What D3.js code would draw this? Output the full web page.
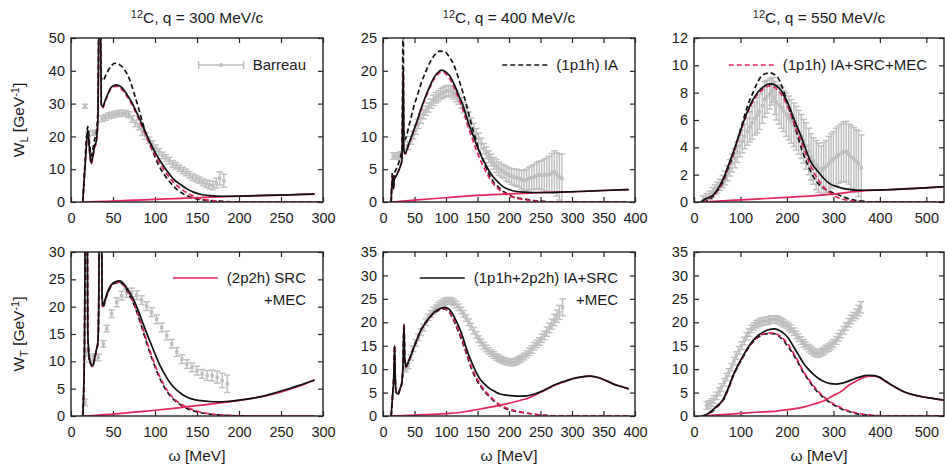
<!DOCTYPE html>
<html><head><meta charset="utf-8">
<script src="https://cdn.jsdelivr.net/npm/d3@7"></script>
<style>
body{margin:0;background:#fff}
svg{display:block}
text{font-family:"Liberation Sans",Arial,Helvetica,sans-serif;fill:#1a1a1a}
</style>
</head><body>
<svg id="c" width="945" height="472"></svg>
<script>
// ---------------- tick labels ----------------
const xTicks300 = [0,50,100,150,200,250,300];
const xTicks400 = [0,50,100,150,200,250,300,350,400];
const xTicks550 = [0,100,200,300,400,500];
const yTicksL300 = [0,10,20,30,40,50];
const yTicksL400 = [0,5,10,15,20,25];
const yTicksL550 = [0,2,4,6,8,10,12];
const yTicksT300 = [0,5,10,15,20,25,30];
const yTicksT400 = [0,5,10,15,20,25,30,35];
const yTicksT550 = [0,5,10,15,20,25,30,35];
const qValues = ["300","400","550"];
const legendLabels = {
  data:["Barreau"], ia:["(1p1h) IA"], full:["(1p1h) IA+SRC+MEC"],
  mec:["(2p2h) SRC","+MEC"], tot:["(1p1h+2p2h) IA+SRC","+MEC"]
};

// ---------------- q = 300, W_L ----------------
const dataL300 = [[16.7,29.2,0.6],[20.5,20.6,0.8],[26.5,21.1,0.8],[37,25.4,0.9],[41,25.8,0.9],[45,26.3,0.9],[49,26.5,0.9],[53,26.8,0.9],[57,27,0.9],[61,27.1,0.9],[65,27,0.9],[69,26.6,0.9],[73,25.3,1],[77,24,1],[81,23,1],[85,21.3,1],[89,20.1,1],[93,18.8,1],[97,17.7,1],[101,16.4,1],[105,15.3,1],[109,14.2,1],[113,13.4,1],[117,12.6,1],[121,11.6,1],[125,11,1],[129,10.3,1],[133,9.6,1],[137,9,1],[141,8.3,1],[145,7.6,1],[149,7.1,1],[153,6.6,1],[157,6,1],[161,5.6,1.1],[165,5.2,1.2],[169,5,1.3],[173,5.8,1.5],[177,7.2,2],[182,6.5,2]];
const iaL300 = [[14,0],[16,9],[18,18],[20,23],[22,18],[24,14],[26,16],[28,19],[30,21],[32,28],[33.5,60],[35,60],[36,38],[38,37],[42,39],[48,41.5],[52,42.3],[58,41.8],[64,40.2],[70,37.2],[76,32.4],[82,27.2],[88,21.8],[96,16.3],[104,11.4],[112,8],[119,5.7],[127,3.6],[135,2.3],[147,1.1],[163,0.5],[180,0.2],[200,0],[300,0]];
const fullL300 = [[14,0],[16,8],[18,16],[20,21.5],[22,15.5],[24,11.5],[26,13.5],[28,16.5],[30,18],[32,24.5],[33.5,60],[35,60],[36,29.5],[38,28.7],[40,30.2],[44,32.7],[48,34.7],[54,35.3],[60,34.5],[66,32.5],[72,30],[78,26.8],[84,23.3],[90,19.8],[96,16.4],[102,13.4],[108,10.9],[115,8.2],[122,6],[130,4.2],[138,2.8],[146,1.8],[155,1],[165,0.5],[175,0.2],[190,0],[300,0]];
const mecL300 = [[15,0],[30,0.1],[50,0.3],[75,0.55],[100,0.8],[125,1.05],[150,1.3],[175,1.55],[200,1.75],[225,1.95],[250,2.1],[275,2.3],[290,2.4]];
const totL300 = [[14,0],[16,8],[18,16],[20,22],[22,16],[24,12],[26,14],[28,17],[30,18.5],[32,25],[33.5,60],[35,60],[36,30],[38,29],[40,30.5],[44,33],[48,35],[54,35.7],[60,35],[66,33],[72,30.5],[78,27.4],[84,24],[90,20.5],[96,17.2],[102,14.3],[108,11.8],[115,9.2],[122,7],[130,5.4],[138,4],[146,3],[155,2.3],[165,1.95],[180,1.75],[200,1.8],[230,2],[260,2.2],[290,2.4]];

// ---------------- q = 400, W_L ----------------
const dataL400 = [[16,7,0.5],[20,7,0.5],[24,7,0.5],[28,7.2,0.5],[39,8.6,0.6],[44,9.4,0.6],[48,10.2,0.6],[52,11,0.7],[56,11.9,0.7],[60,12.7,0.7],[64,13.4,0.7],[68,13.9,0.7],[72,14.4,0.7],[76,15,0.7],[80,15.5,0.8],[84,15.9,0.8],[88,16.2,0.8],[92,16.5,0.8],[96,16.7,0.8],[100,16.9,0.8],[104,17,0.8],[108,16.8,0.8],[112,16.5,0.8],[116,16.1,0.8],[120,15.7,0.8],[124,15.1,0.8],[128,14.4,0.8],[132,13.7,0.8],[136,12.9,0.8],[140,12,0.8],[144,11.2,0.8],[148,10.4,0.8],[152,9.7,0.8],[156,8.9,0.8],[160,8.1,0.8],[164,7.5,0.9],[168,6.9,0.9],[172,6.4,0.9],[176,5.9,0.9],[180,5.5,1],[184,5.1,1],[188,4.8,1],[192,4.6,1],[196,4.3,1.1],[200,4.1,1.1],[204,3.9,1.2],[208,3.8,1.2],[212,3.7,1.3],[216,3.6,1.3],[220,3.4,1.4],[224,3.3,1.5],[228,3.4,1.6],[232,3.6,1.7],[236,3.7,1.8],[240,3.8,1.9],[244,4,2],[248,4.1,2.1],[252,4.1,2.2],[256,4.1,2.4],[260,4.1,2.6],[264,4.2,2.8],[268,4.4,3],[272,4.6,3.2],[276,4.2,3.3],[280,3.8,3.5],[284,3.6,3.7]];
const iaL400 = [[13,0],[15,4.5],[16.5,2.5],[18,4.2],[21,5],[25,6],[28,7],[30,8],[31,15],[32,32],[33,11],[35,9.5],[37.6,10.2],[42,11.9],[48,14.2],[55,16.4],[61,18.2],[68,19.9],[74.6,21.3],[82,22.4],[90.5,23],[98,22.9],[106,22],[112,21],[117,19.7],[122,18.2],[127.5,16.5],[133,14.6],[138,12.7],[143,10.9],[148.7,9.1],[155,7.3],[162,5.6],[168,4.3],[175,3.1],[183,2.3],[191,1.6],[200,1.1],[206,0.8],[218,0.55],[228,0.4],[240,0.2],[254,0.1],[270,0],[390,0]];
const fullL400 = [[13,0],[15,4],[16.5,2],[18,3.5],[21,4],[25,4.8],[28,5.6],[30,6.3],[31,12],[32,20],[33,8],[35,7.3],[40,8.5],[48,10.6],[55,12.5],[61,14.2],[68,16],[74.6,17.5],[80,18.6],[85,19.3],[93,19.8],[100,19.5],[106,18.8],[114,17.2],[120,15.8],[125,14.6],[130,13.1],[135,11.5],[142,9.6],[149,7.7],[155,6.3],[162,4.9],[168,3.8],[175,2.8],[183,2],[191,1.4],[200,0.95],[212,0.6],[225,0.35],[240,0.15],[255,0.05],[270,0],[390,0]];
const mecL400 = [[13,0],[50,0.3],[100,0.65],[150,1],[200,1.25],[240,1.4],[280,1.5],[313,1.6],[350,1.75],[390,1.9]];
const totL400 = [[13,0],[15,4],[16.5,2],[18,3.5],[21,4],[25,4.8],[28,5.6],[30,6.3],[31,12],[32,20],[33,8],[35,7.4],[40,8.6],[48,10.7],[55,12.6],[61,14.4],[68,16.2],[74.6,17.7],[80,18.8],[85,19.5],[93,20.1],[100,19.8],[106,19.2],[114,17.7],[120,16.3],[125,15.2],[130,13.8],[135,12.2],[142,10.4],[149,8.6],[155,7.2],[162,5.9],[168,4.8],[175,3.8],[183,3],[191,2.3],[200,1.9],[212,1.6],[225,1.5],[240,1.45],[260,1.45],[280,1.5],[313,1.6],[350,1.75],[390,1.9]];

// ---------------- q = 550, W_L ----------------
const dataL550 = [[20,0.15,0.3],[27,0.3,0.3],[34,0.5,0.3],[40,0.7,0.35],[45,0.9,0.35],[50,1.05,0.4],[56,1.26,0.4],[62,1.5,0.45],[67,1.75,0.5],[72,2.1,0.55],[77,2.5,0.6],[82,2.85,0.65],[88,3.2,0.7],[93,3.65,0.75],[98.6,4.1,0.8],[104,4.45,0.85],[109,4.8,0.9],[115,5.15,1],[120,5.5,1.1],[125,5.8,1.2],[131,6.1,1.2],[136,6.35,1.3],[141,6.6,1.3],[147,7.05,1.3],[152,7.5,1.3],[157,7.7,1.2],[163,7.9,1.1],[167,8.1,1],[170,8.2,0.9],[174,7.6,1.2],[177,7.3,1.3],[183,7.1,1.4],[188,6.9,1.5],[193,6.65,1.5],[198.6,6.4,1.6],[204,6.15,1.6],[209,5.9,1.6],[215,5.65,1.6],[220,5.4,1.6],[225,5.1,1.6],[231,4.8,1.6],[236,4.45,1.6],[241,4.1,1.7],[247,3.7,1.7],[252,3.3,1.7],[257,3,1.7],[263,2.7,1.8],[268,2.5,1.8],[274,2.3,1.8],[279,2.45,1.9],[284,2.6,1.9],[290,2.8,2],[295,3,2],[300,3.15,2],[306,3.3,2.1],[311,3.45,2.1],[317,3.6,2.1],[322,3.65,2.2],[327.6,3.7,2.2],[333,3.5,2.2],[338,3.3,2.3],[344,3.15,2.3],[349,3,2.3],[354,2.8,2.4],[360,2.5,2.4]];
const iaL550 = [[20,0],[34,0.2],[48,0.7],[63,1.5],[73,2.4],[84,3.4],[95,4.7],[106,6],[116,7.1],[127,8],[136,8.7],[145,9.2],[155,9.4],[163,9.45],[172,9.35],[180.6,9.1],[190,8.4],[198.6,7.5],[207,6.6],[216.5,5.6],[225,4.6],[234.5,3.6],[245,2.7],[256,1.9],[266,1.4],[277,1.05],[290,0.8],[306,0.6],[320,0.4],[334,0.22],[348,0.12],[363,0.05],[380,0],[540,0]];
const fullL550 = [[15,0],[20,0.1],[30,0.25],[41,0.45],[52,0.9],[63,1.6],[73,2.5],[84,3.5],[95,4.6],[106,5.7],[116,6.6],[127,7.35],[138,7.9],[148.6,8.25],[157,8.45],[166.5,8.5],[175,8.35],[184,8.05],[195,7.45],[206,6.6],[216,5.7],[227,4.75],[238,3.75],[249,2.8],[260,2.05],[270,1.5],[280,1.05],[291,0.7],[305,0.4],[320,0.2],[335,0.1],[350,0.04],[370,0],[540,0]];
const mecL550 = [[15,0],[100,0.15],[200,0.34],[300,0.58],[350,0.78],[391,0.87],[434,0.92],[477,1],[531,1.1],[540,1.12]];
const totL550 = [[15,0],[20,0.14],[30,0.3],[41,0.5],[52,1],[63,1.7],[73,2.6],[84,3.6],[95,4.7],[106,5.8],[116,6.7],[127,7.5],[138,8.05],[148.6,8.4],[157,8.6],[166.5,8.65],[175,8.55],[184,8.3],[195,7.7],[206,6.9],[216,6],[227,5.1],[238,4.1],[249,3.1],[260,2.5],[270,2.1],[280,1.7],[291,1.36],[305,1.15],[320,1],[335,0.92],[349,0.87],[370,0.86],[391,0.87],[434,0.92],[477,1],[531,1.1],[540,1.12]];

// ---------------- q = 300, W_T ----------------
const dataT300 = [[16.7,2.5,0.6],[19,11.6,0.6],[22,10.5,0.6],[27,10.8,0.6],[32.5,10.7,0.6],[38.5,13.2,0.6],[42.5,16,0.6],[48.4,18.7,0.7],[54.4,20.8,0.8],[60.3,22,0.8],[66.3,22.5,0.8],[72.2,22.6,0.8],[78.2,22.1,0.8],[84,21.2,0.8],[90,20.1,0.8],[96,19,0.8],[102,17.7,0.8],[108,16.2,0.8],[114,14.7,0.8],[120,13.2,0.8],[126,11.7,0.8],[132,10.4,0.8],[138,9.5,0.8],[144,8.9,0.8],[150,8.3,0.8],[156,7.7,0.8],[162,7.4,0.9],[168,7.4,1],[174,7.1,1.1],[180,6.5,1.3],[186,5.9,1.6]];
const iaT300 = [[14,0],[16,12],[17.5,45],[19,45],[20,15],[22,10.2],[24,9.3],[26,9],[28,10.3],[30,11.8],[32,13.3],[33,20],[34,45],[36,45],[37,21.5],[38,19.8],[41,21.2],[44,22.6],[48,23.8],[52,24.3],[58,24.4],[62,24],[66,23.1],[71,21.7],[76,20],[81,17.8],[86,15.4],[91,12.9],[96,10.7],[101,8.6],[106,6.8],[111,5.3],[116,4.1],[121,3.2],[127,2.4],[133,1.8],[139,1.3],[147,0.9],[155,0.6],[165,0.35],[175,0.2],[190,0.08],[210,0],[290,0]];
const fullT300 = [[14,0],[16,12],[17.5,45],[19,45],[20,15],[22,10.3],[24,9.4],[26,9.1],[28,10.4],[30,11.9],[32,13.4],[33,20],[34,45],[36,45],[37,21.8],[38,20],[41,21.3],[44,22.7],[48,23.9],[52,24.4],[58,24.5],[62,24.1],[66,23.2],[71,21.9],[76,20.2],[81,18.1],[86,15.8],[91,13.3],[96,11],[101,8.9],[106,7.1],[111,5.6],[116,4.4],[121,3.4],[127,2.6],[133,2],[139,1.5],[147,1.05],[155,0.7],[165,0.4],[175,0.25],[190,0.1],[210,0.02],[230,0],[290,0]];
const mecT300 = [[15,0],[30,0.1],[50,0.35],[75,0.7],[100,1.05],[125,1.45],[150,1.9],[175,2.35],[200,2.85],[225,3.5],[250,4.4],[270,5.4],[290,6.6]];
const totT300 = [[14,0],[16,12],[17.5,45],[19,45],[20,15],[22,10.4],[24,9.5],[26,9.2],[28,10.5],[30,12],[32,13.5],[33,20],[34,45],[36,45],[37,22],[38,20.2],[41,21.5],[44,22.9],[48,24],[52,24.5],[58,24.7],[62,24.3],[66,23.5],[71,22.3],[76,20.8],[81,18.9],[86,16.8],[91,14.8],[96,12.9],[101,11],[106,9.2],[111,7.8],[116,6.5],[121,5.5],[127,4.6],[133,3.9],[139,3.4],[147,3],[155,2.8],[165,2.65],[175,2.6],[185,2.65],[195,2.8],[210,3.1],[225,3.5],[240,4.1],[255,4.8],[270,5.5],[285,6.3],[290,6.6]];

// ---------------- q = 400, W_T ----------------
const dataT400 = [[36,10,0.6],[40,10.7,0.6],[44,12.5,0.6],[48,14.3,0.6],[52,15.6,0.7],[56,16.8,0.7],[60,17.9,0.7],[64,18.9,0.7],[68,20,0.7],[72,21.1,0.7],[76,21.8,0.7],[80,22.5,0.7],[84,23,0.7],[88,23.5,0.7],[92,23.9,0.7],[96,24.3,0.7],[100,24.5,0.7],[104,24.6,0.7],[108,24.5,0.7],[112,24.3,0.7],[116,23.8,0.7],[120,23.2,0.7],[124,22.5,0.7],[128,21.8,0.7],[132,20.9,0.7],[136,20,0.7],[140,19.1,0.7],[144,18.2,0.7],[148,17.3,0.7],[152,16.4,0.7],[156,15.7,0.7],[160,15,0.7],[164,14.4,0.7],[168,13.9,0.7],[172,13.4,0.7],[176,13,0.7],[180,12.6,0.7],[184,12.3,0.7],[188,12,0.7],[192,11.8,0.7],[196,11.6,0.7],[200,11.5,0.7],[204,11.4,0.7],[208,11.5,0.7],[212,11.7,0.7],[216,12,0.7],[220,12.3,0.7],[224,12.7,0.7],[228,13.2,0.7],[232,13.7,0.8],[236,14.2,0.8],[240,14.9,0.8],[244,15.4,0.8],[248,15.9,0.8],[252,16.6,0.9],[256,17.2,0.9],[260,18,1],[264,18.8,1],[268,19.6,1.1],[272,20.5,1.2],[276,21.3,1.3],[280,22.1,1.5],[285,23.2,1.8]];
const iaT400 = [[13,0],[15,4],[17,8],[18.5,15],[19.5,8],[21,5],[24,4.7],[27,5.8],[30,7.2],[32,12],[33.3,19.6],[34.5,12],[36.5,10.5],[40,11.5],[44,12.8],[48,14.3],[53,16],[58.7,17.9],[65,19.4],[72,20.6],[78,21.6],[85,22.3],[92,22.8],[98.4,22.8],[104,22.3],[109,21.3],[114,19.9],[119.6,18],[125,16.2],[130,14.3],[135,12.2],[140.7,10],[147,8.1],[154,6.5],[162,5.1],[170,4],[178,3],[185.7,2.2],[196,1.5],[207,1.1],[218,0.8],[228,0.6],[238,0.4],[249,0.2],[260,0.1],[275,0],[390,0]];
const fullT400 = [[13,0],[15,4],[17,8],[18.5,15],[19.5,8],[21,5],[24,4.7],[27,5.8],[30,7.2],[32,12],[33.3,19.6],[34.5,12],[36.5,10.5],[40,11.5],[44,12.8],[48,14.3],[53,16],[58.7,17.9],[65,19.4],[72,20.6],[78,21.6],[85,22.4],[92,22.9],[98.4,22.9],[104,22.5],[109,21.5],[114,20.2],[119.6,18.4],[125,16.6],[130,14.7],[135,12.6],[140.7,10.4],[147,8.5],[154,6.9],[162,5.4],[170,4.2],[178,3.2],[185.7,2.4],[196,1.7],[207,1.2],[218,0.9],[228,0.65],[238,0.45],[249,0.25],[260,0.12],[280,0],[390,0]];
const mecT400 = [[13,0],[50,0.2],[101,0.5],[130,0.9],[154,1.5],[175,2],[196,2.6],[217,3.3],[230,3.8],[239,4.3],[249,5],[260,5.7],[270,6.4],[281,7],[291,7.5],[302,8],[313,8.3],[328.6,8.5],[344,8.1],[355,7.5],[366,6.8],[378,6.3],[390,5.8]];
const totT400 = [[13,0],[15,4],[17,8],[18.5,15],[19.5,8],[21,5],[24,4.7],[27,5.8],[30,7.2],[32,12],[33.3,19.6],[34.5,12],[36.5,10.5],[40,11.5],[44,12.8],[48,14.3],[53,16],[58.7,17.9],[65,19.4],[72,20.7],[78,21.7],[85,22.5],[92,23],[98.4,23.2],[104,22.9],[109,22.1],[114,20.9],[119.6,19.3],[125,17.5],[130,15.4],[135,13.4],[140.7,11.5],[147,9.6],[154,7.9],[162,6.7],[170,5.8],[178,5.2],[185.7,4.7],[196,4.45],[207,4.3],[218,4.25],[228,4.3],[238,4.6],[249,5.1],[260,5.8],[270,6.5],[281,7.1],[291,7.5],[302,8],[313,8.3],[328.6,8.5],[344,8.1],[355,7.5],[366,6.8],[378,6.3],[390,5.8]];

// ---------------- q = 550, W_T ----------------
const dataT550 = [[27,2.2,0.8],[32,2.5,0.8],[38,2.9,0.8],[43,3.5,0.8],[48.6,4.3,0.8],[54,5.2,0.8],[59,6.1,0.8],[65,7.2,0.8],[70,8.3,0.8],[75,9.3,0.8],[81,10.4,0.8],[86,11.7,0.8],[91,12.9,0.8],[97,14,0.8],[102,15,0.8],[108,16,0.8],[113,17,0.8],[118,17.8,0.8],[124,18.6,0.8],[129,19.1,0.8],[134,19.6,0.8],[140,19.9,0.8],[145,20.1,0.8],[150,20.2,0.8],[156,20.3,0.8],[161,20.4,0.8],[166,20.6,0.8],[172,20.6,0.8],[177,20.6,0.8],[182,20.4,0.8],[188,20.1,0.8],[193,19.8,0.8],[199,19.4,0.8],[204,19,0.8],[209,18.6,0.8],[215,18,0.8],[220,17.3,0.8],[225,16.7,0.8],[231,16.1,0.8],[236,15.5,0.8],[241,15,0.8],[247,14.5,0.8],[252,14.1,0.8],[257,13.7,0.8],[263,13.4,0.8],[268,13.4,0.8],[274,13.6,0.8],[279,13.9,0.8],[284,14.3,0.8],[290,14.6,0.8],[295,15,0.8],[300,15.5,0.8],[306,16.1,0.8],[311,16.8,0.8],[316,17.5,0.8],[322,18.3,0.8],[327,19.1,0.8],[333,19.9,0.9],[338,20.6,0.9],[343,21.2,0.9],[349,21.8,1],[354,22.5,1.1],[359,23.2,1.2]];
const iaT550 = [[20,0],[34,0.6],[48,1.8],[63,3.4],[73,5.5],[84,8.4],[95,10.7],[106,12.7],[116,14.4],[127,15.8],[138,16.8],[148.6,17.4],[160,17.6],[172,17.6],[183,17],[195,15.8],[204,14.6],[213,13.3],[224,11.4],[234,9.5],[245,7.9],[256,6.3],[266,5.1],[277,4.1],[288,3.2],[298.6,2.5],[310,1.9],[320,1.4],[331,1],[341,0.7],[352,0.45],[363,0.3],[374,0.2],[384,0.1],[400,0],[540,0]];
const fullT550 = [[15,0],[25,0.2],[34,0.7],[48,1.9],[63,3.5],[73,5.6],[84,8.5],[95,10.8],[106,12.8],[116,14.5],[127,15.9],[138,16.9],[148.6,17.5],[160,17.7],[172,17.7],[183,17.2],[195,16.2],[204,15.1],[213,13.6],[224,11.7],[234,9.8],[245,8.1],[256,6.6],[266,5.4],[277,4.3],[288,3.4],[298.6,2.7],[310,2.1],[320,1.6],[331,1.15],[341,0.85],[352,0.6],[363,0.4],[374,0.28],[384,0.18],[400,0.05],[420,0],[540,0]];
const mecT550 = [[15,0],[60,0.3],[100,0.55],[134,0.8],[174,1],[206,1.4],[240,2],[263,2.7],[281,3.3],[299,4.3],[316,5.2],[334,6.6],[352,7.6],[367,8.3],[377,8.5],[388,8.5],[399,8.2],[413,7.3],[427,6.5],[441,5.7],[456,5],[473,4.5],[491,4.1],[510,3.8],[531,3.5],[540,3.35]];
const totT550 = [[15,0],[25,0.2],[34,0.8],[48,2],[63,3.6],[73,5.8],[84,8.6],[95,10.9],[106,12.9],[116,14.6],[127,16.1],[138,17.2],[148.6,17.9],[160,18.4],[173.6,18.6],[185,18.2],[195,17.5],[204,16.5],[213,15],[224,13.2],[234,11.5],[245,10.1],[256,9],[268,8],[281,7.3],[293,6.9],[306,6.8],[318,7],[331,7.4],[344,7.9],[356,8.3],[367,8.6],[377,8.7],[388,8.6],[399,8.3],[413,7.4],[427,6.5],[441,5.7],[456,5],[473,4.5],[491,4.1],[510,3.8],[531,3.5],[540,3.35]];

// ---------------- layout & style ----------------
const RED = "#e5245a", GREY = "#bdbdbd", BLACK = "#111";
const cols = [{x0:71,x1:323,xMax:300},{x0:383,x1:635,xMax:400},{x0:694,x1:944,xMax:538}];
const rows = [{y0:38,y1:202},{y0:252,y1:416}];

const panels = [
  {r:0,c:0,yMax:50,xt:xTicks300,yt:yTicksL300,data:dataL300,ia:iaL300,full:fullL300,mec:mecL300,tot:totL300,key:"data"},
  {r:0,c:1,yMax:25,xt:xTicks400,yt:yTicksL400,data:dataL400,ia:iaL400,full:fullL400,mec:mecL400,tot:totL400,key:"ia"},
  {r:0,c:2,yMax:12,xt:xTicks550,yt:yTicksL550,data:dataL550,ia:iaL550,full:fullL550,mec:mecL550,tot:totL550,key:"full"},
  {r:1,c:0,yMax:30,xt:xTicks300,yt:yTicksT300,data:dataT300,ia:iaT300,full:fullT300,mec:mecT300,tot:totT300,key:"mec"},
  {r:1,c:1,yMax:35,xt:xTicks400,yt:yTicksT400,data:dataT400,ia:iaT400,full:fullT400,mec:mecT400,tot:totT400,key:"tot"},
  {r:1,c:2,yMax:35,xt:xTicks550,yt:yTicksT550,data:dataT550,ia:iaT550,full:fullT550,mec:mecT550,tot:totT550,key:null}
];

const styles = {
  ia:  {stroke:BLACK, dash:"5,3"},
  full:{stroke:RED,   dash:"5,3"},
  mec: {stroke:RED,   dash:null},
  tot: {stroke:BLACK, dash:null}
};

const svg = d3.select("#c");
const FS = 15, TFS = 14.5;

panels.forEach((p,i)=>{
  const C = cols[p.c], R = rows[p.r];
  const x = d3.scaleLinear().domain([0,C.xMax]).range([C.x0,C.x1]);
  const y = d3.scaleLinear().domain([0,p.yMax]).range([R.y1,R.y0]);
  const g = svg.append("g");
  const clipId = "clip"+i;
  svg.append("clipPath").attr("id",clipId).append("rect")
     .attr("x",C.x0).attr("y",R.y0).attr("width",C.x1-C.x0).attr("height",R.y1-R.y0);

  // axes (ticks inward, mirrored)
  const tl = 5;
  const axB = d3.axisBottom(x).tickValues(p.xt).tickSize(-tl).tickPadding(11).tickFormat(d3.format("d"));
  const axT = d3.axisTop(x).tickValues(p.xt).tickSize(-tl).tickFormat("");
  const axL = d3.axisLeft(y).tickValues(p.yt).tickSize(-tl).tickPadding(6).tickFormat(d3.format("d"));
  const axR = d3.axisRight(y).tickValues(p.yt).tickSize(-tl).tickFormat("");
  const gb = g.append("g").attr("transform",`translate(0,${R.y1})`).call(axB);
  const gt = g.append("g").attr("transform",`translate(0,${R.y0})`).call(axT);
  const gl = g.append("g").attr("transform",`translate(${C.x0},0)`).call(axL);
  const gr = g.append("g").attr("transform",`translate(${C.x1},0)`).call(axR);
  [gb,gt,gl,gr].forEach(a=>{
    a.select(".domain").remove();
    a.selectAll(".tick line").attr("stroke","#222").attr("stroke-width",1.2);
    a.selectAll(".tick text").attr("font-size",TFS).attr("fill","#1a1a1a")
      .attr("font-family",'"Liberation Sans",Arial,sans-serif');
  });

  // data with error bars
  const dg = g.append("g").attr("clip-path",`url(#${clipId})`);
  const bars = dg.selectAll("g.pt").data(p.data).enter().append("g")
     .attr("stroke",GREY).attr("stroke-width",1.4);
  bars.append("line").attr("x1",d=>x(d[0])).attr("x2",d=>x(d[0]))
      .attr("y1",d=>y(d[1]-d[2])).attr("y2",d=>y(d[1]+d[2]));
  bars.append("line").attr("x1",d=>x(d[0])-3.2).attr("x2",d=>x(d[0])+3.2)
      .attr("y1",d=>y(d[1]-d[2])).attr("y2",d=>y(d[1]-d[2]));
  bars.append("line").attr("x1",d=>x(d[0])-3.2).attr("x2",d=>x(d[0])+3.2)
      .attr("y1",d=>y(d[1]+d[2])).attr("y2",d=>y(d[1]+d[2]));
  bars.append("rect").attr("x",d=>x(d[0])-1.7).attr("y",d=>y(d[1])-1.7)
      .attr("width",3.4).attr("height",3.4).attr("fill",GREY).attr("stroke","none");

  // curves
  const line = d3.line().x(d=>x(d[0])).y(d=>y(d[1])).curve(d3.curveMonotoneX);
  ["ia","full","mec","tot"].forEach(k=>{
    dg.append("path").attr("d",line(p[k])).attr("fill","none")
      .attr("stroke",styles[k].stroke).attr("stroke-width",1.7)
      .attr("stroke-dasharray",styles[k].dash).attr("stroke-linejoin","round");
  });

  // frame
  g.append("rect").attr("x",C.x0).attr("y",R.y0).attr("width",C.x1-C.x0).attr("height",R.y1-R.y0)
   .attr("fill","none").attr("stroke","#222").attr("stroke-width",1.4);

  // legend
  if(p.key){
    const labels = legendLabels[p.key];
    const tx = C.x1 - 17;
    const ty = R.y0 + (p.r===0 ? 32 : 31);
    const texts = labels.map((s,j)=> g.append("text").attr("x",tx).attr("y",ty+j*22)
        .attr("text-anchor","end").attr("font-size",FS).text(s));
    const w = texts[0].node().getComputedTextLength();
    const sx1 = tx - w - 9, sx0 = sx1 - 45, sy = ty - 5;
    if(p.key==="data"){
      const lg = g.append("g").attr("stroke",GREY).attr("stroke-width",1.4);
      lg.append("line").attr("x1",sx0).attr("x2",sx1).attr("y1",sy).attr("y2",sy);
      lg.append("line").attr("x1",sx0).attr("x2",sx0).attr("y1",sy-4).attr("y2",sy+4);
      lg.append("line").attr("x1",sx1).attr("x2",sx1).attr("y1",sy-4).attr("y2",sy+4);
      lg.append("rect").attr("x",(sx0+sx1)/2-1.7).attr("y",sy-1.7).attr("width",3.4).attr("height",3.4)
        .attr("fill",GREY).attr("stroke","none");
    } else {
      g.append("line").attr("x1",sx0).attr("x2",sx1).attr("y1",sy).attr("y2",sy)
       .attr("stroke",styles[p.key].stroke).attr("stroke-width",1.7)
       .attr("stroke-dasharray",styles[p.key].dash);
    }
  }

  // titles
  if(p.r===0){
    const t = svg.append("text").attr("x",(C.x0+C.x1)/2).attr("y",23)
      .attr("text-anchor","middle").attr("font-size",FS+0.5);
    t.append("tspan").attr("font-size",11).attr("dy",-5).text("12");
    t.append("tspan").attr("dy",5).text(`C, q = ${qValues[p.c]} MeV/c`);
  } else {
    svg.append("text").attr("x",(C.x0+C.x1)/2).attr("y",461)
      .attr("text-anchor","middle").attr("font-size",FS+0.5).text("ω [MeV]");
  }
  if(p.c===0){
    const cy = (R.y0+R.y1)/2;
    const t = svg.append("text").attr("transform",`translate(24,${cy}) rotate(-90)`)
      .attr("text-anchor","middle").attr("font-size",FS+0.5);
    t.append("tspan").text("W");
    t.append("tspan").attr("font-size",11).attr("dy",4).text(p.r===0?"L":"T");
    t.append("tspan").attr("dy",-4).text(" [GeV");
    t.append("tspan").attr("font-size",11).attr("dy",-5).text("-1");
    t.append("tspan").attr("dy",5).text("]");
  }
});
</script>
</body></html>
